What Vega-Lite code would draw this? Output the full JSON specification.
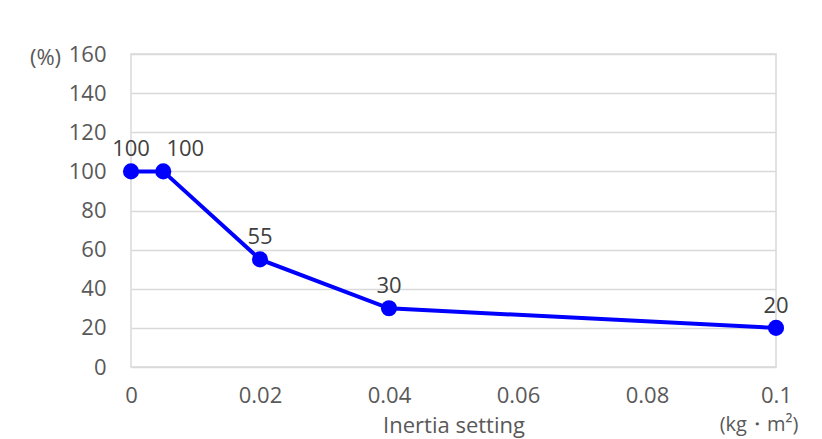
{
  "$schema": "https://vega.github.io/schema/vega-lite/v6.json",
  "width": 645,
  "height": 313,
  "autosize": {"type": "none"},
  "padding": {"left": 131, "top": 54, "right": 46, "bottom": 72},
  "background": "white",
  "config": {
    "font": "Open Sans",
    "view": {"stroke": "#d9d9d9", "strokeWidth": 1.5},
    "axis": {"labelFont": "Open Sans", "titleFont": "Open Sans", "labelColor": "#595959", "titleColor": "#595959", "labelFontSize": 22, "titleFontSize": 22, "titleFontWeight": "normal", "domain": false, "ticks": false, "gridColor": "#d9d9d9", "gridWidth": 1.5}
  },
  "data": {"values": [
    {"inertia": 0, "pct": 100},
    {"inertia": 0.005, "pct": 100},
    {"inertia": 0.02, "pct": 55},
    {"inertia": 0.04, "pct": 30},
    {"inertia": 0.1, "pct": 20}
  ]},
  "encoding": {
    "x": {"field": "inertia", "type": "quantitative", "scale": {"domain": [0, 0.1], "nice": false},
      "axis": {"values": [0, 0.02, 0.04, 0.06, 0.08, 0.1], "grid": false, "labelPadding": 18, "title": "Inertia setting", "titleFontSize": 22, "titleY": 58, "titleBaseline": "middle", "labelFlush": false, "labelExpr": "datum.value == 0 ? '0' : format(datum.value, '.2~f')"}},
    "y": {"field": "pct", "type": "quantitative", "scale": {"domain": [0, 160], "nice": false},
      "axis": {"values": [0, 20, 40, 60, 80, 100, 120, 140, 160], "labelPadding": 25, "title": "(%)", "titleFontSize": 22, "titleAngle": 0, "titleX": -86, "titleY": 3, "titleAlign": "center", "titleBaseline": "middle"}}
  },
  "layer": [
    {"mark": {"type": "line", "color": "#0000ff", "strokeWidth": 4}},
    {"mark": {"type": "point", "filled": true, "color": "#0000ff", "opacity": 1, "size": 260}},
    {"transform": [{"filter": "datum.inertia != 0.005"}],
     "mark": {"type": "text", "dy": -22, "fontSize": 22, "color": "#404040", "baseline": "middle"},
     "encoding": {"text": {"field": "pct", "type": "quantitative"}}},
    {"transform": [{"filter": "datum.inertia == 0.005"}],
     "mark": {"type": "text", "dy": -22, "dx": 22, "fontSize": 22, "color": "#404040", "baseline": "middle"},
     "encoding": {"text": {"field": "pct", "type": "quantitative"}}},
    {"data": {"values": [{"inertia": 0.1, "pct": 0, "unit": "(kg・m²)"}]},
     "mark": {"type": "text", "dy": 58, "dx": -17, "fontSize": 20, "color": "#595959", "baseline": "middle"},
     "encoding": {"text": {"field": "unit"}}}
  ]
}
